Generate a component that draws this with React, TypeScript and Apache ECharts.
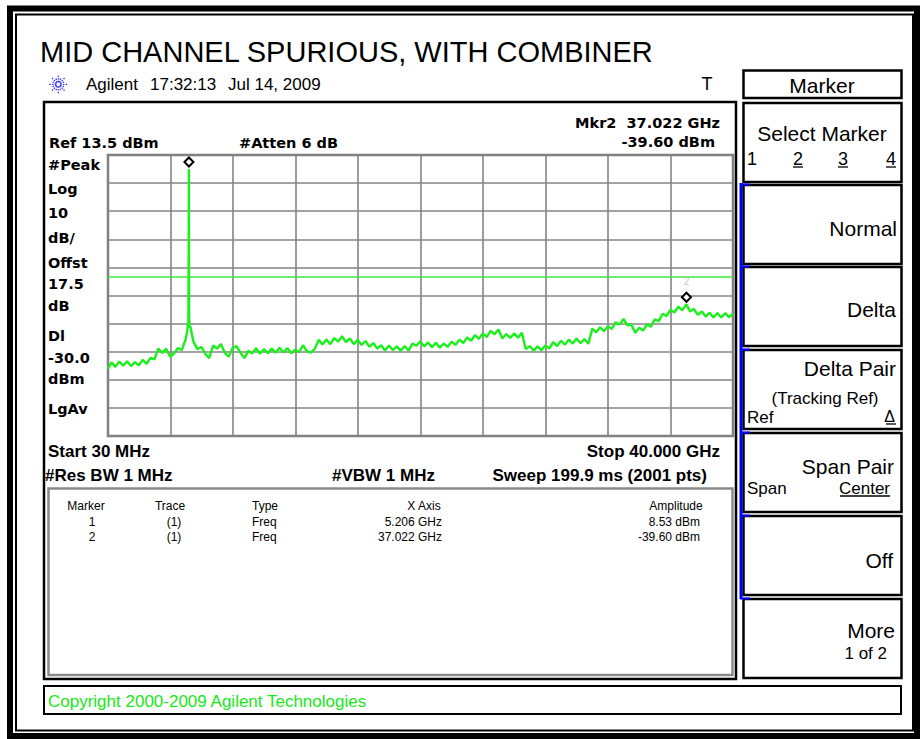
import React, { useEffect, useRef } from "react";
import * as echarts from "echarts";

// ---- instrument settings ----
const startGHz = 0.03;
const stopGHz = 40.0;
const refLevelDbm = 13.5;
const dbPerDiv = 10;
const displayLineDbm = -30.0;

// ---- markers ----
const markerFreqGHz = [5.206, 37.022];
const markerAmpDbm = [8.53, -39.6];

// ---- trace ----
const traceFreqGHz = [
  0.03, 0.25, 0.5, 0.75, 1.0, 1.25, 1.5, 1.75, 2.0, 2.25, 2.5, 2.75, 3.0, 3.25, 3.5, 3.75, 4.0, 4.25, 4.5, 4.75,
  5.0, 5.1, 5.15, 5.17, 5.19, 5.206, 5.22, 5.25, 5.3, 5.4, 5.5, 5.75, 6.0, 6.25, 6.5, 6.75, 7.0, 7.25, 7.5, 7.75,
  8.0, 8.25, 8.5, 8.75, 9.0, 9.25, 9.5, 9.75, 10.0, 10.25, 10.5, 10.75, 11.0, 11.25, 11.5, 11.75, 12.0, 12.25, 12.5, 12.75,
  13.0, 13.25, 13.5, 13.75, 14.0, 14.25, 14.5, 14.75, 15.0, 15.25, 15.5, 15.75, 16.0, 16.25, 16.5, 16.75, 17.0, 17.25, 17.5, 17.75,
  18.0, 18.25, 18.5, 18.75, 19.0, 19.25, 19.5, 19.75, 20.0, 20.25, 20.5, 20.75, 21.0, 21.25, 21.5, 21.75, 22.0, 22.25, 22.5, 22.75,
  23.0, 23.25, 23.5, 23.75, 24.0, 24.25, 24.5, 24.75, 25.0, 25.25, 25.5, 25.75, 26.0, 26.25, 26.5, 26.75, 27.0, 27.25, 27.5, 27.75,
  28.0, 28.25, 28.5, 28.75, 29.0, 29.25, 29.5, 29.75, 30.0, 30.25, 30.5, 30.75, 31.0, 31.25, 31.5, 31.75, 32.0, 32.25, 32.5, 32.75,
  33.0, 33.25, 33.5, 33.75, 34.0, 34.25, 34.5, 34.75, 35.0, 35.25, 35.5, 35.75, 36.0, 36.25, 36.5, 36.75, 37.022, 37.25, 37.5, 37.75,
  38.0, 38.25, 38.5, 38.75, 39.0, 39.25, 39.5, 39.75, 40.0,
];
const traceDbm = [
  -62.5, -60.3, -61.9, -60.0, -61.5, -59.9, -61.6, -60.2, -61.3, -59.4, -60.8, -58.7, -59.2, -55.4, -56.9, -55.5, -58.3, -57.2, -55.2, -55.9,
  -52.0, -49.0, -46.0, -47.0, -23.0, 8.53, -44.0, -48.0, -47.5, -50.5, -53.0, -55.6, -54.8, -57.3, -58.8, -54.3, -55.4, -53.8, -56.9, -58.3,
  -55.2, -54.5, -56.9, -58.8, -56.2, -57.1, -55.3, -57.2, -55.6, -57.0, -55.4, -56.9, -55.1, -56.8, -55.2, -57.1, -55.8, -56.7, -54.2, -56.3,
  -56.8, -55.5, -52.3, -53.9, -52.2, -53.8, -51.7, -52.9, -51.0, -53.1, -51.8, -53.8, -52.3, -54.1, -52.7, -54.8, -53.4, -55.4, -54.2, -56.1,
  -54.3, -55.9, -54.6, -56.2, -54.5, -56.1, -53.6, -54.4, -52.8, -54.6, -53.2, -54.9, -53.3, -55.1, -53.6, -54.8, -52.9, -54.1, -52.2, -53.4,
  -51.4, -52.6, -50.6, -51.9, -50.0, -51.3, -49.1, -50.3, -48.6, -51.8, -50.2, -51.6, -50.0, -51.5, -49.8, -55.6, -54.5, -56.2, -54.6, -56.0,
  -54.3, -55.4, -53.1, -54.5, -52.6, -54.0, -52.2, -53.6, -51.8, -53.5, -52.0, -53.7, -48.3, -49.6, -47.8, -49.2, -47.4, -48.4, -46.0, -46.8,
  -44.8, -47.1, -46.8, -49.8, -48.0, -49.0, -46.8, -47.6, -45.0, -45.6, -43.0, -43.8, -41.6, -42.6, -40.5, -41.8, -39.6, -42.2, -41.3, -43.4,
  -42.2, -44.0, -42.6, -44.3, -42.7, -44.3, -42.8, -44.2, -43.0,
];

// ---- texts ----
const titleText = "MID CHANNEL SPURIOUS, WITH COMBINER";
const leftLabels = ["#Peak", "Log", "10", "dB/", "Offst", "17.5", "dB", "Dl", "-30.0", "dBm", "LgAv"];
const tableHeaders = ["Marker", "Trace", "Type", "X Axis", "Amplitude"];
const softkeyTitle = "Marker";

const SANS = '"Liberation Sans", Arial, sans-serif';
const DEJA = '"DejaVu Sans", sans-serif';

function buildGraphics() {
  const els: any[] = [];
  const T = (x: number, y: number, text: string, o: any = {}) => {
    const align = o.align || "left";
    els.push({
      type: "text",
      x,
      y,
      z: 100,
      style: {
        text,
        fill: o.fill || "#000",
        font: `${o.weight || "normal"} ${o.size || 17}px ${o.family || SANS}`,
        align,
        textAlign: align,
        verticalAlign: "middle",
        textVerticalAlign: "middle",
      },
    });
  };
  const R = (x: number, y: number, w: number, h: number, stroke: string, lw: number) =>
    els.push({
      type: "rect",
      z: 100,
      shape: { x, y, width: w, height: h },
      style: { fill: "none", stroke, lineWidth: lw },
    });
  const L = (x1: number, y1: number, x2: number, y2: number, stroke: string, lw: number, dash?: number[]) =>
    els.push({
      type: "line",
      z: 100,
      shape: { x1, y1, x2, y2 },
      style: { stroke, lineWidth: lw, lineDash: dash || null },
    });

  // outer frame
  R(10, 8.5, 907, 727.5, "#000", 6);
  R(16, 14.5, 897, 716, "#000", 2);

  // title & header line
  T(40, 51.5, titleText, { size: 29 });
  const cx = 58.3, cy = 84.3;
  for (let k = 0; k < 16; k++) {
    const a = (k * Math.PI) / 8;
    const r2 = k % 2 === 0 ? 9 : 6.5;
    L(cx + 2 * Math.cos(a), cy + 2 * Math.sin(a), cx + r2 * Math.cos(a), cy + r2 * Math.sin(a), "#3a3aff", 1.3, [1.5, 1.2]);
  }
  T(86, 84, "Agilent", { size: 17 });
  T(150, 84, "17:32:13", { size: 17 });
  T(228, 84, "Jul 14, 2009", { size: 17 });
  T(707, 84, "T", { size: 18, align: "center" });

  // main instrument box
  R(44, 102, 692, 577, "#000", 2.5);

  // upper annotations
  const bold = { weight: "bold", size: 14.5, family: DEJA };
  T(720, 123, `Mkr2  ${markerFreqGHz[1].toFixed(3)} GHz`, { ...bold, align: "right" });
  T(49, 142.5, `Ref ${refLevelDbm.toFixed(1)} dBm`, bold);
  T(239, 142.5, "#Atten 6 dB", bold);
  T(715, 142, `${markerAmpDbm[1].toFixed(2)} dBm`, { ...bold, align: "right" });
  const leftY = [165, 189, 213, 237.5, 262.5, 284, 306, 336, 357.5, 379, 409];
  leftLabels.forEach((s, i) => T(48, leftY[i], s, bold));

  // lower annotations
  const b17 = { weight: "bold", size: 17 };
  T(48, 451.5, `Start ${Math.round(startGHz * 1000)} MHz`, b17);
  T(720, 451.5, `Stop ${stopGHz.toFixed(3)} GHz`, { ...b17, align: "right" });
  T(45, 475, "#Res BW 1 MHz", b17);
  T(332, 475, "#VBW 1 MHz", b17);
  T(707, 475, "Sweep 199.9 ms (2001 pts)", { ...b17, align: "right" });

  // marker table
  R(48.5, 488.5, 684, 186.5, "#8a8a8a", 2.5);
  const t12 = { size: 12 };
  T(86, 506, tableHeaders[0], { ...t12, align: "center" });
  T(170, 506, tableHeaders[1], { ...t12, align: "center" });
  T(252, 506, tableHeaders[2], t12);
  T(424, 506, tableHeaders[3], { ...t12, align: "center" });
  T(676, 506, tableHeaders[4], { ...t12, align: "center" });
  const rowY = [522, 537];
  markerFreqGHz.forEach((f, i) => {
    T(92, rowY[i], String(i + 1), { ...t12, align: "center" });
    T(174, rowY[i], "(1)", { ...t12, align: "center" });
    T(252, rowY[i], "Freq", t12);
    T(442, rowY[i], `${f.toFixed(3)} GHz`, { ...t12, align: "right" });
    T(700, rowY[i], `${markerAmpDbm[i].toFixed(2)} dBm`, { ...t12, align: "right" });
  });

  // copyright
  R(44, 686, 857, 28, "#000", 2);
  T(48, 701, "Copyright 2000-2009 Agilent Technologies", { size: 17, fill: "#18e818" });

  // softkeys
  R(743.5, 70.5, 158, 27.5, "#000", 2.5);
  T(822, 85, softkeyTitle, { size: 21, align: "center" });
  const keyTop = [103, 185, 267, 350, 433, 516, 599];
  keyTop.forEach((t) => R(743.5, t, 158, 79, "#000", 2.5));
  L(741, 183, 741, 599, "#0000ff", 3);
  keyTop.slice(1).forEach((t) => L(740, t - 0.5, 750, t - 0.5, "#0000ff", 2));

  T(822, 133.5, "Select Marker", { size: 21, align: "center" });
  T(747, 158.5, "1", { size: 18 });
  T(798, 158.5, "2", { size: 18, align: "center" });
  T(843, 158.5, "3", { size: 18, align: "center" });
  T(896, 158.5, "4", { size: 18, align: "right" });
  L(793, 167, 803, 167, "#000", 1.3);
  L(838, 167, 848, 167, "#000", 1.3);
  L(886, 167, 896, 167, "#000", 1.3);

  T(897, 228, "Normal", { size: 21, align: "right" });
  T(896, 309, "Delta", { size: 21, align: "right" });
  T(896, 368, "Delta Pair", { size: 21, align: "right" });
  T(825, 398, "(Tracking Ref)", { size: 17, align: "center" });
  T(747, 417, "Ref", { size: 17 });
  T(895, 416, "Δ", { size: 16, align: "right" });
  L(886, 424, 896, 424, "#000", 1.3);
  T(894, 466, "Span Pair", { size: 21, align: "right" });
  T(747, 488, "Span", { size: 17 });
  T(890, 488, "Center", { size: 17, align: "right" });
  L(840, 496, 890, 496, "#000", 1.3);
  T(893, 560, "Off", { size: 21, align: "right" });
  T(895, 630, "More", { size: 21, align: "right" });
  T(887, 653, "1 of 2", { size: 17, align: "right" });

  return els;
}

export default function App() {
  const ref = useRef<HTMLDivElement>(null);
  useEffect(() => {
    if (!ref.current) return;
    const chart = echarts.init(ref.current, null, { renderer: "svg" });
    const gridAxis = {
      type: "value",
      min: 0,
      max: 10,
      interval: 1,
      axisLine: { show: false },
      axisTick: { show: false },
      axisLabel: { show: false },
      splitLine: { show: true, lineStyle: { color: "#858585", width: 1.6 } },
    };
    chart.setOption({
      animation: false,
      backgroundColor: "#ffffff",
      grid: {
        left: 108,
        top: 155,
        width: 625,
        height: 281,
        show: true,
        borderColor: "#7a7a7a",
        borderWidth: 2.5,
        backgroundColor: "#ffffff",
      },
      xAxis: [
        gridAxis,
        { type: "value", min: startGHz, max: stopGHz, show: false },
      ],
      yAxis: [
        gridAxis,
        { type: "value", min: refLevelDbm - 10 * dbPerDiv, max: refLevelDbm, show: false },
      ],
      series: [
        { type: "line", xAxisIndex: 0, yAxisIndex: 0, data: [], silent: true },
        {
          type: "line",
          xAxisIndex: 1,
          yAxisIndex: 1,
          data: traceFreqGHz.map((f, i) => [f, traceDbm[i]]),
          showSymbol: false,
          symbol: "none",
          lineStyle: { color: "#1cf01c", width: 2.4 },
          z: 3,
          markLine: {
            silent: true,
            symbol: "none",
            label: { show: false },
            lineStyle: { color: "#3ce83c", width: 1.5, type: "solid" },
            data: [{ yAxis: displayLineDbm }],
          },
          markPoint: {
            symbol: "diamond",
            symbolSize: 9,
            symbolOffset: [0, -7],
            itemStyle: { color: "#ffffff", borderColor: "#000000", borderWidth: 2 },
            data: markerFreqGHz.map((f, i) => ({
              coord: [f, markerAmpDbm[i]],
              label: {
                show: i === 1,
                formatter: String(i + 1),
                position: "top",
                distance: 5,
                color: "#c4c4c4",
                fontSize: 10,
              },
            })),
            z: 10,
          },
        },
      ],
      graphic: { elements: buildGraphics() },
    });
    return () => chart.dispose();
  }, []);
  return (
    <div
      ref={ref}
      style={{ position: "absolute", left: 0, top: 0, width: 923, height: 739, background: "#fff" }}
    />
  );
}
